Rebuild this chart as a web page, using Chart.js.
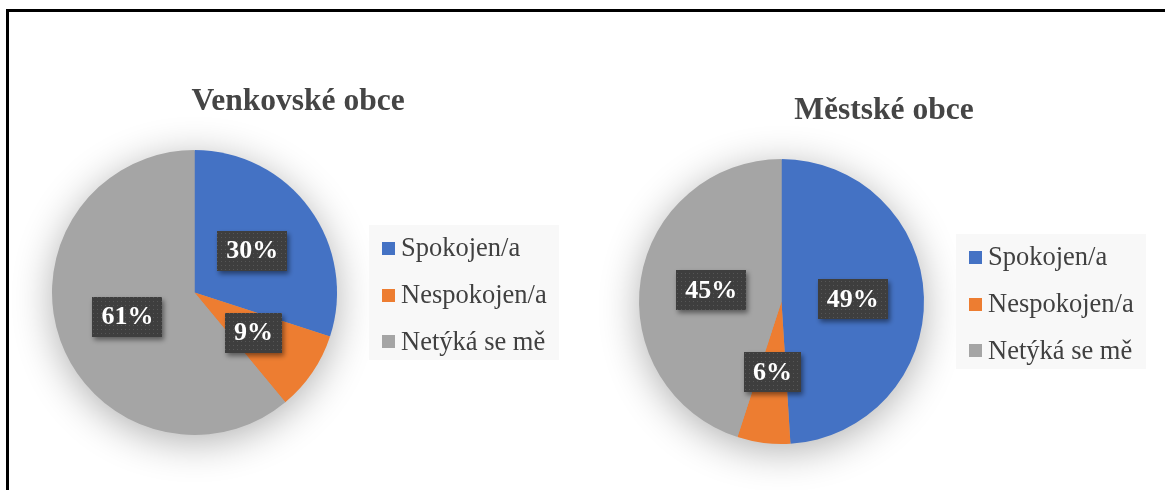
<!DOCTYPE html>
<html>
<head>
<meta charset="utf-8">
<script src="https://cdn.jsdelivr.net/npm/chart.js@4.4.0/dist/chart.umd.min.js"></script>
<style>
  html, body { margin: 0; padding: 0; width: 1165px; height: 490px; overflow: hidden; background: #fff; }
  #frame { position: absolute; left: 6px; top: 9px; width: 1300px; height: 700px; border-left: 3px solid #000; border-top: 3px solid #000; }
  canvas { position: absolute; left: 0; top: 0; }
</style>
</head>
<body>
<div id="frame"></div>
<canvas id="c1" width="1165" height="490"></canvas>
<canvas id="c2" width="1165" height="490"></canvas>
<script>
// ---- data ----
const categories = ['Spokojen/a', 'Nespokojen/a', 'Netýká se mě'];
const ruralValues = [30, 9, 61];
const urbanValues = [49, 6, 45];
const ruralTitle = 'Venkovské obce';
const urbanTitle = 'Městské obce';
const sliceColors = ['#4472C4', '#ED7D31', '#A5A5A5'];

// ---- helpers ----
function makePattern(ctx) {
  const t = document.createElement('canvas');
  t.width = 4; t.height = 4;
  const g = t.getContext('2d');
  g.fillStyle = '#3e3e3e'; g.fillRect(0, 0, 4, 4);
  g.fillStyle = '#565656'; g.fillRect(1, 1, 1, 1);
  return ctx.createPattern(t, 'repeat');
}

const decorPlugin = {
  id: 'decor',
  beforeDatasetsDraw(chart) {
    const arc = chart.getDatasetMeta(0).data[0];
    if (!arc) return;
    const ctx = chart.ctx;
    ctx.save();
    ctx.shadowColor = 'rgba(0,0,0,0.32)';
    ctx.shadowBlur = 40;
    ctx.shadowOffsetY = 7;
    ctx.fillStyle = '#A5A5A5';
    ctx.beginPath();
    ctx.arc(arc.x, arc.y, arc.outerRadius - 1, 0, Math.PI * 2);
    ctx.fill();
    ctx.restore();
  },
  afterDatasetsDraw(chart) {
    const o = chart.options.plugins.decor;
    const ctx = chart.ctx;
    const ds = chart.data.datasets[0];
    const meta = chart.getDatasetMeta(0);
    const pat = makePattern(ctx);
    ctx.save();
    ctx.font = 'bold 26px "Liberation Serif", "Times New Roman", serif';
    meta.data.forEach((arc, i) => {
      const p = arc.getCenterPoint();
      const txt = ds.data[i] + '%';
      const w = ctx.measureText(txt).width + 18;
      const h = 40;
      ctx.save();
      ctx.shadowColor = 'rgba(0,0,0,0.45)';
      ctx.shadowBlur = 5;
      ctx.shadowOffsetX = 2;
      ctx.shadowOffsetY = 3;
      ctx.fillStyle = pat;
      ctx.fillRect(Math.round(p.x - w / 2), Math.round(p.y - h / 2), Math.round(w), h);
      ctx.restore();
      ctx.fillStyle = '#ffffff';
      ctx.textAlign = 'center';
      ctx.textBaseline = 'middle';
      ctx.fillText(txt, p.x, p.y + 1);
    });
    // title
    ctx.fillStyle = '#454545';
    ctx.font = 'bold 31.5px "Liberation Serif", "Times New Roman", serif';
    ctx.textAlign = 'center';
    ctx.textBaseline = 'alphabetic';
    ctx.fillText(o.title, o.titleX, o.titleY);
    // legend
    const L = o.legend;
    ctx.fillStyle = '#f8f8f8';
    ctx.fillRect(L.x, L.y, L.w, L.h);
    ctx.font = '26.5px "Liberation Serif", "Times New Roman", serif';
    ctx.textAlign = 'left';
    ctx.textBaseline = 'middle';
    chart.data.labels.forEach((lab, i) => {
      const cy = L.firstY + i * L.step;
      ctx.fillStyle = ds.backgroundColor[i];
      ctx.fillRect(L.boxX, Math.round(cy - 6.5), 13, 13);
      ctx.fillStyle = '#404040';
      ctx.fillText(lab, L.textX, cy + 1);
    });
    ctx.restore();
  }
};

function makeChart(id, values, title, pad, decor) {
  return new Chart(document.getElementById(id), {
    type: 'pie',
    data: {
      labels: categories,
      datasets: [{
        data: values,
        backgroundColor: sliceColors,
        borderWidth: 0,
        hoverOffset: 0,
        offset: 0
      }]
    },
    options: {
      responsive: false,
      animation: false,
      events: [],
      layout: { padding: pad },
      plugins: {
        legend: { display: false },
        title: { display: false },
        tooltip: { enabled: false },
        decor: Object.assign({ title: title }, decor)
      }
    },
    plugins: [decorPlugin]
  });
}

makeChart('c1', ruralValues, ruralTitle,
  { left: 52, top: 150, right: 828, bottom: 55 },
  { titleX: 298, titleY: 110,
    legend: { x: 369, y: 225, w: 190, h: 135, boxX: 382, textX: 401, firstY: 248.5, step: 46.7 } });

makeChart('c2', urbanValues, urbanTitle,
  { left: 639, top: 159, right: 241, bottom: 46 },
  { titleX: 884, titleY: 119,
    legend: { x: 956, y: 234, w: 190, h: 135, boxX: 969, textX: 988, firstY: 257.3, step: 46.7 } });
</script>
</body>
</html>
